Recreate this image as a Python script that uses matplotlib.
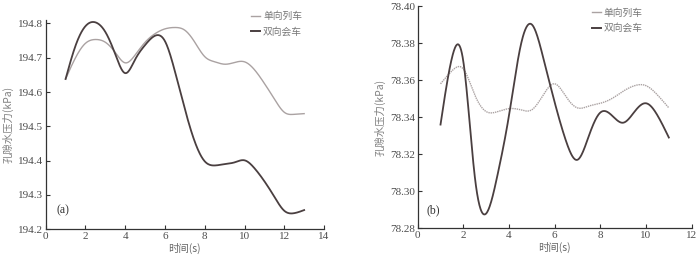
import numpy as np
import matplotlib
matplotlib.use("Agg")
import matplotlib.pyplot as plt
from matplotlib.lines import Line2D

# ---------------- data ----------------
time_a = [1.0, 1.5, 2.0, 2.5, 3.0, 3.5, 4.0, 4.5, 5.0, 5.5, 6.0, 6.5, 7.0,
          7.5, 8.0, 8.5, 9.0, 9.5, 10.0, 10.5, 11.0, 11.5, 12.0, 12.5, 13.0]
single_a = [194.638, 194.700, 194.742, 194.753, 194.745, 194.715, 194.685,
            194.708, 194.745, 194.770, 194.784, 194.788, 194.780, 194.745,
            194.703, 194.688, 194.681, 194.686, 194.688, 194.665, 194.625,
            194.580, 194.541, 194.535, 194.537]
double_a = [194.638, 194.735, 194.792, 194.803, 194.775, 194.710, 194.655,
            194.695, 194.737, 194.764, 194.748, 194.660, 194.550, 194.455,
            194.398, 194.386, 194.390, 194.395, 194.401, 194.378, 194.340,
            194.295, 194.254, 194.247, 194.256]

time_b = [1.0, 1.5, 2.0, 2.5, 3.0, 3.5, 4.0, 4.5, 5.0, 5.5, 6.0, 6.5, 7.0,
          7.5, 8.0, 8.5, 9.0, 9.5, 10.0, 10.5, 11.0]
single_b = [78.358, 78.365, 78.366, 78.352, 78.343, 78.343, 78.3446,
            78.344, 78.344, 78.352, 78.358, 78.351, 78.345, 78.346,
            78.3475, 78.350, 78.354, 78.357, 78.357, 78.352, 78.345]
double_b = [78.336, 78.372, 78.370, 78.308, 78.288, 78.309, 78.341,
            78.378, 78.390, 78.372, 78.348, 78.327, 78.317, 78.330,
            78.3425, 78.341, 78.337, 78.343, 78.3475, 78.341, 78.329]

legend_labels = ["单向列车", "双向会车"]
xlabel = "时间(s)"
ylabel = "孔隙水压力(kPa)"

# ---------------- helpers ----------------
def natural_spline(x, y, n=600):
    x = np.asarray(x, float); y = np.asarray(y, float)
    k = len(x)
    h = np.diff(x)
    A = np.zeros((k, k)); r = np.zeros(k)
    A[0, 0] = 1; A[-1, -1] = 1
    for i in range(1, k - 1):
        A[i, i - 1] = h[i - 1]
        A[i, i] = 2 * (h[i - 1] + h[i])
        A[i, i + 1] = h[i]
        r[i] = 6 * ((y[i + 1] - y[i]) / h[i] - (y[i] - y[i - 1]) / h[i - 1])
    M = np.linalg.solve(A, r)
    xs = np.linspace(x[0], x[-1], n)
    idx = np.clip(np.searchsorted(x, xs) - 1, 0, k - 2)
    x0 = x[idx]; x1 = x[idx + 1]; hh = x1 - x0
    a = (x1 - xs) / hh; b = (xs - x0) / hh
    ys = (a * y[idx] + b * y[idx + 1]
          + ((a ** 3 - a) * M[idx] + (b ** 3 - b) * M[idx + 1]) * hh ** 2 / 6)
    return xs, ys

CJK = ["Noto Sans CJK SC", "DejaVu Sans"]
SERIF = "Liberation Serif"
gray = "#aaa2a2"
dark = "#4a3f40"
txt = "#4d4d4d"

fig = plt.figure(figsize=(7.0, 2.59), dpi=100)
ax1 = fig.add_axes([0.0653, 0.1147, 0.3976, 0.8083])
ax2 = fig.add_axes([0.5967, 0.1185, 0.3914, 0.8583])


def style(ax, xlim, ylim, xticks, yticks, yfmt, tag, tagpos, legpos):
    ax.set_xlim(*xlim); ax.set_ylim(*ylim)
    for s in ["top", "right"]:
        ax.spines[s].set_visible(False)
    for s in ["left", "bottom"]:
        ax.spines[s].set_color("#333333")
        ax.spines[s].set_linewidth(0.9)
    ax.set_xticks(xticks)
    ax.set_yticks(yticks)
    ax.set_xticklabels([str(t) for t in xticks])
    ax.set_yticklabels([yfmt.format(t) for t in yticks])
    for lbl in ax.get_xticklabels() + ax.get_yticklabels():
        lbl.set_fontfamily(SERIF)
        lbl.set_fontsize(8)
        lbl.set_color(txt)
    ax.tick_params(direction="in", length=3, width=0.8, color="#333333", pad=2)
    ax.set_xlabel(xlabel, family=CJK, fontsize=7.5, color="#666666", labelpad=1)
    ax.set_ylabel(ylabel, family=CJK, fontsize=7.5, color="#808080", labelpad=3)
    ax.text(tagpos[0], tagpos[1], tag, transform=ax.transAxes, family=SERIF,
            fontsize=8.5, color="#333333", ha="center", va="center")
    handles = [Line2D([], [], color=gray, lw=1.0),
               Line2D([], [], color=dark, lw=1.4)]
    leg = ax.legend(handles, legend_labels, loc="upper right", frameon=False,
                    prop={"family": CJK, "size": 7}, handlelength=0.9,
                    handletextpad=0.3, labelspacing=0.55,
                    bbox_to_anchor=legpos, borderaxespad=0)
    for t in leg.get_texts():
        t.set_color("#777777")


xs, ys = natural_spline(time_a, single_a)
ax1.plot(xs, ys, color=gray, lw=1.0)
xs, ys = natural_spline(time_a, double_a)
ax1.plot(xs, ys, color=dark, lw=1.3)
style(ax1, (0, 14), (194.2, 194.81), [0, 2, 4, 6, 8, 10, 12, 14],
      [194.2, 194.3, 194.4, 194.5, 194.6, 194.7, 194.8], "{:.1f}",
      "(a)", (0.061, 0.09), (0.935, 1.06))

xs, ys = natural_spline(time_b, single_b)
ax2.plot(xs, ys, color=gray, lw=1.0, ls=(0, (1, 0.6)))
xs, ys = natural_spline(time_b, double_b)
ax2.plot(xs, ys, color=dark, lw=1.3)
style(ax2, (0, 12), (78.28, 78.40), [0, 2, 4, 6, 8, 10, 12],
      [78.28, 78.30, 78.32, 78.34, 78.36, 78.38, 78.40], "{:.2f}",
      "(b)", (0.057, 0.079), (0.835, 1.01))

fig.savefig("out.png", dpi=100)
